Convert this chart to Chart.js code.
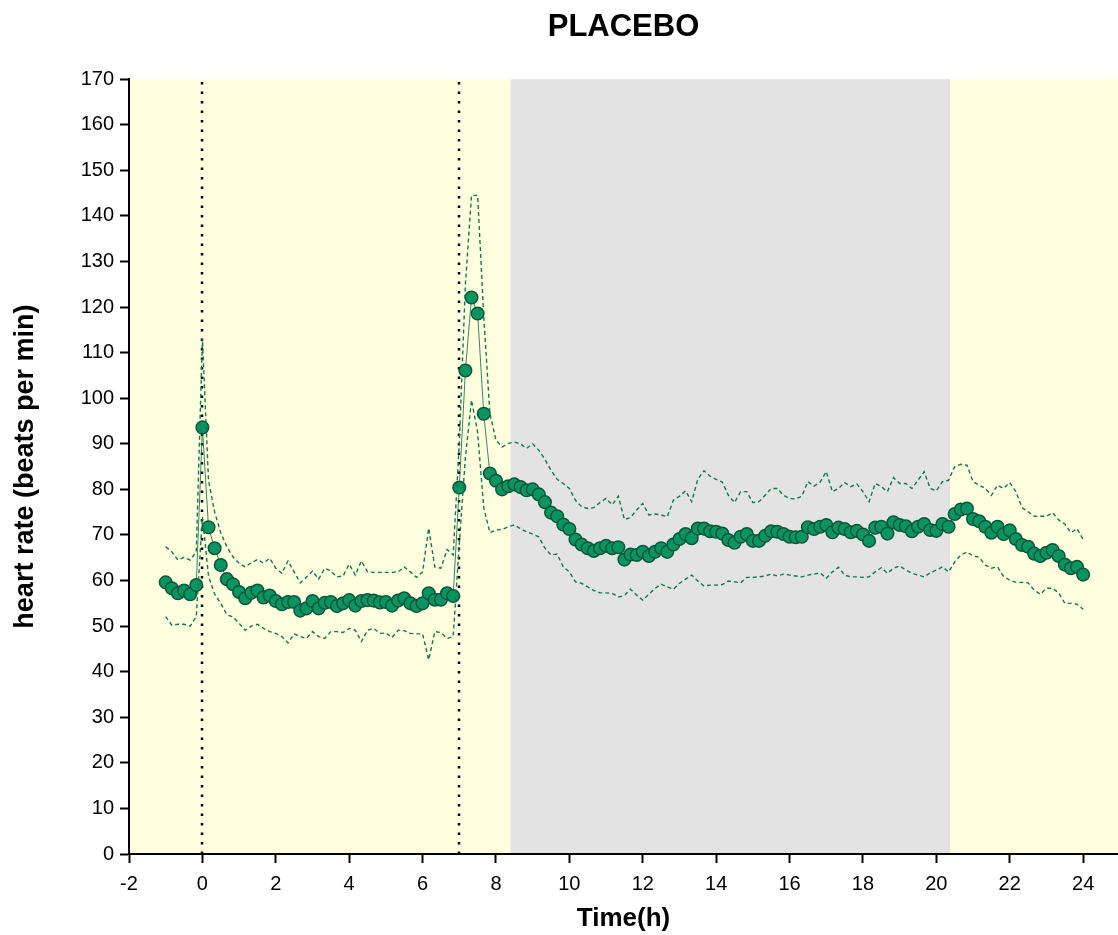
<!DOCTYPE html>
<html>
<head>
<meta charset="utf-8">
<title>PLACEBO</title>
<script src="https://cdn.jsdelivr.net/npm/chart.js@4.4.1/dist/chart.umd.min.js"></script>
<style>
  html, body { margin: 0; padding: 0; background: #fff; }
  #wrap { width: 1118px; height: 935px; position: relative; }
</style>
</head>
<body>
<div id="wrap"><canvas id="hr-chart"></canvas></div>
<script>
// heart rate sampled every 10 min, from -1 h to 24 h
const startHour = -1;
const stepHour = 1 / 6;

const meanRate = [
  59.6, 58.3, 57.2, 57.8, 57.0, 59.0, 93.6, 71.7, 67.1, 63.4,
  60.3, 59.2, 57.5, 56.1, 57.3, 57.8, 56.3, 56.7, 55.5, 54.8,
  55.3, 55.3, 53.4, 53.9, 55.5, 53.9, 55.1, 55.3, 54.4, 55.0,
  55.7, 54.5, 55.5, 55.7, 55.6, 55.2, 55.3, 54.5, 55.6, 56.1,
  55.0, 54.4, 55.0, 57.2, 55.8, 55.8, 57.2, 56.6, 80.4, 106.1,
  122.1, 118.6, 96.6, 83.5, 81.9, 80.0, 80.7, 81.1, 80.5, 79.8,
  80.0, 78.9, 77.2, 74.9, 74.1, 72.3, 71.3, 69.0, 67.9, 67.1,
  66.5, 67.1, 67.6, 67.1, 67.3, 64.6, 65.7, 65.6, 66.3, 65.4,
  66.3, 67.1, 66.3, 67.9, 69.1, 70.2, 69.3, 71.4, 71.4, 70.8,
  70.7, 70.3, 68.9, 68.3, 69.6, 70.2, 68.7, 68.7, 69.8, 70.8,
  70.7, 70.2, 69.6, 69.5, 69.6, 71.7, 71.3, 71.8, 72.2, 70.6,
  71.6, 71.3, 70.6, 70.9, 70.1, 68.7, 71.6, 71.8, 70.3, 72.8,
  72.2, 71.9, 70.8, 71.8, 72.4, 71.1, 70.9, 72.4, 71.8, 74.6,
  75.6, 75.8, 73.5, 73.0, 71.8, 70.5, 71.8, 70.2, 71.0, 69.1,
  67.8, 67.4, 65.9, 65.4, 66.1, 66.7, 65.4, 63.5, 62.7, 63.0,
  61.3
];

const upperRate = [
  67.4, 66.3, 64.5, 65.1, 64.5, 66.3, 113.1, 82.0, 75.0, 70.5,
  67.4, 65.2, 63.8, 63.0, 63.9, 64.6, 63.8, 64.9, 62.7, 61.6,
  64.3, 61.9, 59.5, 60.7, 62.1, 60.3, 62.7, 62.1, 60.8, 61.0,
  63.6, 61.2, 64.3, 61.9, 61.8, 61.8, 61.8, 61.8, 61.9, 63.0,
  61.9, 60.7, 61.9, 71.5, 63.0, 62.7, 66.8, 65.6, 90.0, 125.0,
  144.5, 144.5, 118.0, 96.7, 90.8, 89.3, 90.1, 90.4, 90.0, 89.0,
  90.0, 88.6, 86.6, 84.2, 82.2, 81.3, 80.2, 77.6, 76.2, 75.8,
  76.0, 77.1, 78.0, 76.6, 78.5, 73.4, 73.8, 75.5, 76.9, 74.4,
  74.6, 74.4, 74.0, 77.6, 78.5, 79.7, 77.3, 82.2, 84.1, 82.9,
  82.2, 81.6, 78.7, 77.1, 79.5, 79.5, 77.1, 77.3, 78.7, 80.2,
  80.2, 78.7, 78.0, 77.9, 78.5, 81.7, 80.7, 81.6, 83.9, 79.5,
  80.2, 81.5, 80.6, 81.2, 79.5, 77.3, 81.3, 80.6, 79.5, 82.6,
  81.3, 81.3, 80.2, 82.0, 83.9, 80.2, 79.7, 81.7, 82.0, 85.0,
  85.5, 85.3, 81.7, 80.9, 80.2, 78.7, 80.9, 80.2, 81.5, 79.5,
  76.0, 75.1, 74.1, 74.1, 74.1, 74.9, 73.3, 72.4, 70.5, 71.4,
  69.0
];

const lowerRate = [
  52.1, 50.2, 50.4, 50.4, 50.0, 52.1, 74.0, 61.0, 57.0, 55.0,
  52.5, 52.0, 50.6, 49.1, 50.0, 50.4, 49.5, 48.8, 48.4, 47.7,
  46.3, 48.3, 47.7, 47.3, 48.8, 47.7, 47.3, 48.8, 48.8, 48.6,
  49.5, 49.1, 46.6, 49.1, 49.5, 48.4, 48.5, 47.5, 49.1, 49.0,
  48.4, 48.3, 48.3, 42.6, 48.8, 48.6, 47.3, 47.7, 68.0, 87.0,
  99.6, 92.5, 76.0, 70.5, 71.1, 71.2, 71.8, 72.2, 71.4, 70.7,
  70.2, 69.6, 67.1, 65.6, 65.8, 63.0, 61.9, 59.7, 59.4, 58.6,
  57.8, 57.3, 57.3, 57.2, 56.4, 56.7, 58.1, 56.8, 55.7, 57.0,
  58.3, 59.2, 58.6, 58.1, 59.4, 60.3, 61.2, 59.9, 58.8, 59.0,
  59.0, 59.1, 59.9, 59.7, 59.5, 60.7, 60.7, 60.8, 61.0, 61.4,
  61.0, 61.4, 61.2, 61.0, 60.8, 61.2, 61.4, 61.7, 60.5, 61.9,
  62.9, 61.2, 60.8, 60.8, 60.7, 60.8, 61.9, 62.8, 61.6, 62.7,
  63.2, 62.3, 61.6, 61.2, 60.8, 61.7, 62.3, 63.0, 61.9, 64.1,
  65.6, 66.3, 65.4, 65.1, 63.4, 62.7, 63.0, 60.9, 60.1, 59.6,
  59.6, 59.5, 57.9, 57.0, 58.3, 58.3, 57.3, 55.0, 55.0, 54.8,
  53.7
];

const xTicks = [-2, 0, 2, 4, 6, 8, 10, 12, 14, 16, 18, 20, 22, 24];
const bandEdges = [-2, 8.4, 20.38, 24.95];   // day / night / day
const markerHours = [0, 7];

const FONT = "Arial, 'Liberation Sans', Helvetica, sans-serif";

function toPoints(values) {
  return values.map((v, i) => ({ x: startHour + i * stepHour, y: v }));
}

const backgroundBands = {
  id: 'backgroundBands',
  beforeDraw(chart, args, opts) {
    const { ctx, chartArea, scales: { x } } = chart;
    ctx.save();
    for (let i = 0; i < bandEdges.length - 1; i++) {
      const left = x.getPixelForValue(bandEdges[i]);
      const right = x.getPixelForValue(bandEdges[i + 1]);
      ctx.fillStyle = opts.colors[i];
      ctx.fillRect(left, chartArea.top, right - left, chartArea.bottom - chartArea.top);
    }
    ctx.restore();
  },
  beforeDatasetsDraw(chart) {
    const { ctx, chartArea, scales: { x } } = chart;
    ctx.save();
    ctx.strokeStyle = '#000';
    ctx.lineWidth = 2.5;
    ctx.setLineDash([2.5, 7]);
    markerHours.forEach(h => {
      const px = Math.round(x.getPixelForValue(h));
      ctx.beginPath();
      ctx.moveTo(px, chartArea.bottom);
      ctx.lineTo(px, chartArea.top);
      ctx.stroke();
    });
    ctx.restore();
  }
};

const dashed = {
  borderColor: '#0f7a4e',
  borderWidth: 1.4,
  borderDash: [4, 3],
  pointRadius: 0,
  fill: false,
  tension: 0
};

const axisCommon = {
  border: { display: true, color: '#000', width: 2 },
  grid: { drawOnChartArea: false, drawTicks: true, tickLength: 9, tickColor: '#000', tickWidth: 2 },
  ticks: { color: '#000', font: { family: FONT, size: 20 }, padding: 6 }
};

new Chart(document.getElementById('hr-chart'), {
  type: 'line',
  data: {
    datasets: [
      Object.assign({ label: 'upper', data: toPoints(upperRate) }, dashed),
      Object.assign({ label: 'lower', data: toPoints(lowerRate) }, dashed),
      {
        label: 'mean',
        data: toPoints(meanRate),
        borderColor: '#0b6440',
        borderWidth: 0.8,
        pointRadius: 6.3,
        pointBackgroundColor: '#0a9462',
        pointBorderColor: '#07573a',
        pointBorderWidth: 1.5,
        tension: 0
      }
    ]
  },
  options: {
    responsive: true,
    maintainAspectRatio: false,
    animation: false,
    layout: { padding: 0, autoPadding: false },
    plugins: {
      legend: { display: false },
      tooltip: { enabled: false },
      title: {
        display: true,
        text: 'PLACEBO',
        fullSize: false,
        color: '#000',
        font: { family: FONT, size: 31, weight: 'bold' },
        padding: { top: 9, bottom: 33 }
      },
      backgroundBands: { colors: ['#FFFFE0', '#E3E3E3', '#FFFFE0'] }
    },
    scales: {
      x: Object.assign({}, axisCommon, {
        type: 'linear',
        min: -2,
        max: 24.95,
        ticks: Object.assign({}, axisCommon.ticks, { padding: 9 }),
        title: {
          display: true,
          text: 'Time(h)',
          color: '#000',
          font: { family: FONT, size: 26, weight: 'bold' },
          padding: { top: 0, bottom: 1 }
        },
        afterBuildTicks: scale => { scale.ticks = xTicks.map(v => ({ value: v })); },
        afterFit: scale => {
          scale.height = 81;
          scale.paddingLeft = 0;
          scale.paddingRight = 0;
        }
      }),
      y: Object.assign({}, axisCommon, {
        min: 0,
        max: 170,
        ticks: Object.assign({}, axisCommon.ticks, { stepSize: 10 }),
        title: {
          display: true,
          text: 'heart rate (beats per min)',
          color: '#000',
          font: { family: FONT, size: 27, weight: 'bold' },
          padding: { top: 9, bottom: 0 }
        },
        afterFit: scale => { scale.width = 129; }
      })
    }
  },
  plugins: [backgroundBands]
});
</script>
</body>
</html>
